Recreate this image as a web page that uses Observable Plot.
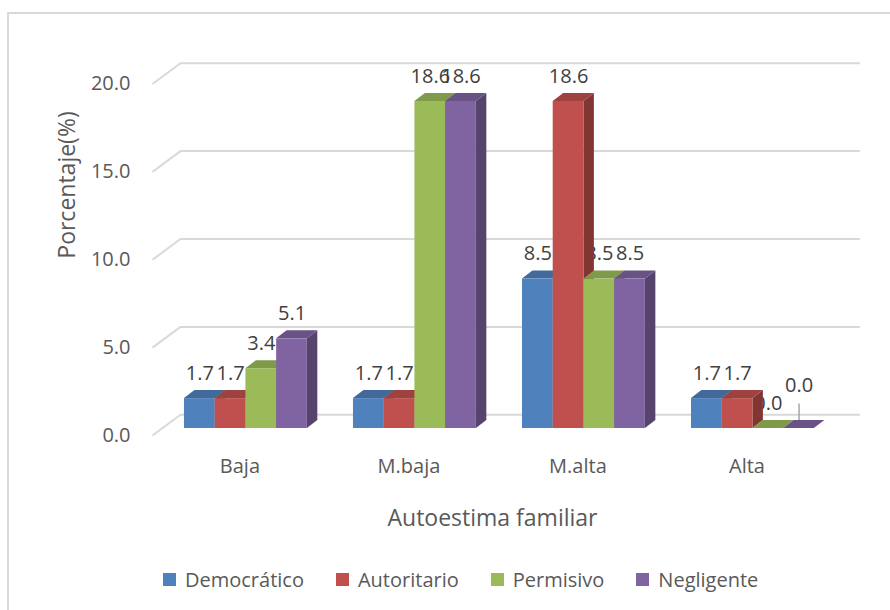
<!DOCTYPE html>
<html><head><meta charset="utf-8">
<script src="https://cdn.jsdelivr.net/npm/d3@7"></script>
<script src="https://cdn.jsdelivr.net/npm/@observablehq/plot@0.6"></script>
<style>
body{margin:0;background:#fff;font-family:"Open Sans",sans-serif;}
#wrap{position:relative;width:890px;height:610px;overflow:hidden;background:#fff;}
#frame{position:absolute;left:7px;top:12px;width:920px;height:640px;border:2px solid #d9d9d9;pointer-events:none;}
#legend{display:flex;align-items:center;height:48px;padding-left:163px;font-size:20px;color:#595959;}
#legend .it{display:flex;align-items:center;margin-right:32px;}
#legend .sw{width:13px;height:13px;margin-right:9px;}
svg{display:block;}
</style></head>
<body><div id="wrap"><div id="chart"></div><div id="legend"></div><div id="frame"></div></div>
<script>
const categories = ["Baja", "M.baja", "M.alta", "Alta"];
const series = ["Democrático", "Autoritario", "Permisivo", "Negligente"];
const colors = ["#4F81BD", "#C0504D", "#9BBB59", "#8064A2"];
const democratico = [1.7, 1.7, 8.5, 1.7];
const autoritario = [1.7, 1.7, 18.6, 1.7];
const permisivo = [3.4, 18.6, 8.5, 0.0];
const negligente = [5.1, 18.6, 8.5, 0.0];
const yTicks = [0, 5, 10, 15, 20];
const values = [democratico, autoritario, permisivo, negligente];

// 3D layout (data units)
const STEP = 5.5, DX = 0.34, DY = 0.455;
const X_FRONT = -1.04, X_BACK = -0.13, X_END = 22.0, FRONT = -0.4, BACK = 0.78;

const rows = [];
categories.forEach((c, g) => series.forEach((s, k) => {
  const x1 = g * STEP + k;
  rows.push({id: g * 4 + k, cat: c, ser: s, g, k, v: values[k][g], x1, x2: x1 + 1,
    color: colors[k],
    top: d3.rgb(colors[k]).darker(0.55).formatHex(),
    side: d3.rgb(colors[k]).darker(1.1).formatHex()});
}));
// label collision: consecutive zero labels in the same group get raised
rows.forEach((r, i) => {
  const prev = rows[i - 1];
  r.raised = r.k > 0 && !!prev && prev.g === r.g && r.v === 0 && prev.v === 0 && !prev.raised;
});

const topPts = rows.flatMap(r => [
  {id: r.id, fill: r.top, x: r.x1, lo: r.v, hi: r.v},
  {id: r.id, fill: r.top, x: r.x1 + DX, lo: r.v, hi: r.v + DY},
  {id: r.id, fill: r.top, x: r.x2, lo: r.v, hi: r.v + DY},
  {id: r.id, fill: r.top, x: r.x2 + DX, lo: r.v + DY, hi: r.v + DY}
]);
const sidePts = rows.filter(r => r.v > 0).flatMap(r => [
  {id: r.id, fill: r.side, x: r.x2, lo: 0, hi: r.v},
  {id: r.id, fill: r.side, x: r.x2 + DX, lo: DY, hi: r.v + DY}
]);

const txt = "#595959";
const chart = Plot.plot({
  width: 890, height: 555,
  marginLeft: 152, marginRight: 30, marginTop: 76.4, marginBottom: 127,
  x: {domain: [X_FRONT, X_END], axis: null},
  y: {domain: [0, 20], axis: null},
  color: {type: "identity"},
  style: {fontFamily: "'Open Sans', sans-serif", background: "transparent"},
  marks: [
    Plot.ruleY(yTicks, {y: d => d + BACK, x1: X_BACK, x2: X_END, stroke: "#d9d9d9", strokeWidth: 2}),
    Plot.link(yTicks, {x1: X_FRONT, y1: d => d + FRONT, x2: X_BACK, y2: d => d + BACK, stroke: "#d9d9d9", strokeWidth: 2}),
    Plot.text(yTicks, {x: X_FRONT, y: d => d + FRONT, text: d => d.toFixed(1), textAnchor: "end", dx: -22, fontSize: 20, fill: txt}),
    Plot.text(categories, {x: (d, i) => i * STEP + 2, y: 0, dx: -6, dy: 38, text: d => d, fontSize: 20, fill: txt}),
    Plot.text(["Porcentaje(%)"], {frameAnchor: "left", dx: -85, dy: 6, rotate: -90, text: d => d, fontSize: 23, fill: txt}),
    Plot.text(["Autoestima familiar"], {frameAnchor: "bottom", dx: -14, dy: 97, text: d => d, fontSize: 23, fill: txt}),
    // data labels (drawn behind the bars, as in the 3D original)
    Plot.text(rows.filter(r => !r.raised), {x: d => d.x1 + 0.5, y: "v", dy: -25, text: d => d.v.toFixed(1), fontSize: 20, fill: "#404040"}),
    Plot.text(rows.filter(r => r.raised), {x: d => d.x1 + 0.5, y: "v", dy: -43, text: d => d.v.toFixed(1), fontSize: 20, fill: "#404040"}),
    Plot.ruleX(rows.filter(r => r.raised), {x: d => d.x1 + 0.5, y1: "v", y2: d => d.v + 1.4, stroke: "#a6a6a6", strokeWidth: 1.5}),
    Plot.areaY(sidePts, {x: "x", y1: "lo", y2: "hi", z: "id", fill: "fill"}),
    Plot.areaY(topPts, {x: "x", y1: "lo", y2: "hi", z: "id", fill: "fill"}),
    Plot.rect(rows, {x1: "x1", x2: "x2", y1: 0, y2: "v", fill: "color"})
  ]
});
document.getElementById("chart").appendChild(chart);

const lg = d3.select("#legend");
series.forEach((s, i) => {
  const it = lg.append("div").attr("class", "it");
  it.append("div").attr("class", "sw").style("background", colors[i]);
  it.append("span").text(s);
});
</script></body></html>
